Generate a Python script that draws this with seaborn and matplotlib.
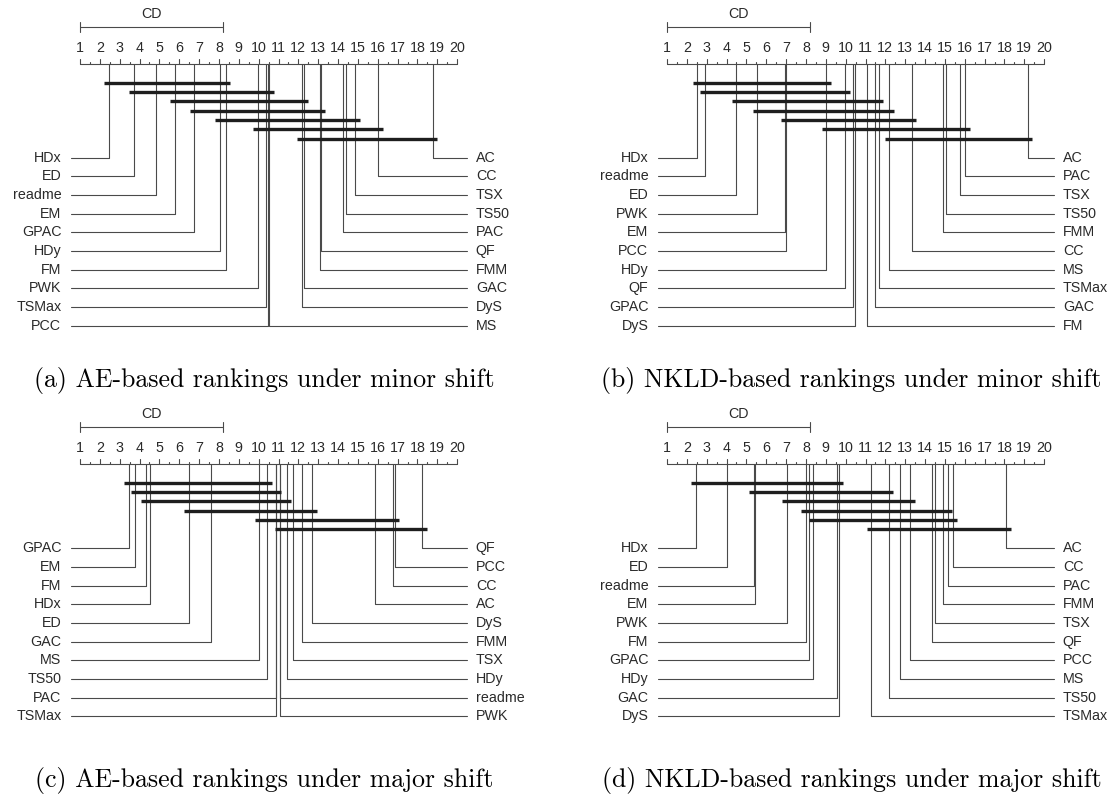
import numpy as np
import matplotlib
matplotlib.use("Agg")
import matplotlib.pyplot as plt
import seaborn as sns

sns.set_style("white")
plt.rcParams["font.family"] = ["Liberation Sans", "DejaVu Sans"]

# average ranks
cd = 7.19

names_a = ["HDx", "ED", "readme", "EM", "GPAC", "HDy", "FM", "PWK", "TSMax", "PCC",
           "MS", "DyS", "GAC", "FMM", "QF", "PAC", "TS50", "TSX", "CC", "AC"]
ranks_a = [2.44, 3.72, 4.85, 5.77, 6.76, 8.05, 8.34, 9.96, 10.37, 10.48,
           10.53, 12.17, 12.26, 13.07, 13.12, 14.24, 14.38, 14.87, 16.02, 18.77]
cliques_a = [("HDx", "FM"), ("ED", "MS"), ("EM", "GAC"), ("GPAC", "QF"),
             ("HDy", "TSX"), ("PWK", "CC"), ("DyS", "AC")]

names_b = ["HDx", "readme", "ED", "PWK", "EM", "PCC", "HDy", "QF", "GPAC", "DyS",
           "FM", "GAC", "TSMax", "MS", "CC", "FMM", "TS50", "TSX", "PAC", "AC"]
ranks_b = [2.52, 2.91, 4.49, 5.55, 6.95, 7.01, 9.02, 9.98, 10.38, 10.45,
           11.09, 11.48, 11.68, 12.19, 13.32, 14.92, 15.05, 15.76, 16.03, 19.18]
cliques_b = [("HDx", "HDy"), ("readme", "QF"), ("ED", "TSMax"), ("PWK", "MS"),
             ("EM", "CC"), ("HDy", "PAC"), ("MS", "AC")]

names_c = ["GPAC", "EM", "FM", "HDx", "ED", "GAC", "MS", "TS50", "PAC", "TSMax",
           "PWK", "readme", "HDy", "TSX", "FMM", "DyS", "AC", "CC", "PCC", "QF"]
ranks_c = [3.45, 3.79, 4.31, 4.51, 6.49, 7.62, 10.03, 10.44, 10.85, 10.89,
           11.06, 11.10, 11.41, 11.72, 12.19, 12.69, 15.84, 16.79, 16.85, 18.23]
cliques_c = [("GPAC", "TS50"), ("EM", "TSMax"), ("FM", "HDy"), ("ED", "DyS"),
             ("MS", "PCC"), ("PWK", "QF")]

names_d = ["HDx", "ED", "readme", "EM", "PWK", "FM", "GPAC", "HDy", "GAC", "DyS",
           "TSMax", "TS50", "MS", "PCC", "QF", "TSX", "FMM", "PAC", "CC", "AC"]
ranks_d = [2.46, 4.01, 5.37, 5.42, 7.04, 7.99, 8.13, 8.38, 9.57, 9.66,
           11.30, 12.18, 12.73, 13.26, 14.33, 14.51, 14.92, 15.15, 15.40, 18.08]
cliques_d = [("HDx", "DyS"), ("readme", "TS50"), ("PWK", "PCC"), ("FM", "PAC"),
             ("HDy", "CC"), ("TSMax", "AC")]

captions = ["(a) AE-based rankings under minor shift",
            "(b) NKLD-based rankings under minor shift",
            "(c) AE-based rankings under major shift",
            "(d) NKLD-based rankings under major shift"]

W, H = 1114, 794
U = 19.85      # pixels per rank unit
HU = 93.5      # pixels per orange height unit
AX_Y = 64
LINE = "#4a4a4a"
TXT = "#2a2a2a"
FS = 10.3


def cd_diagram(ax, names, ranks, cliques, caption, x1, top):
    ax.set_xlim(1 - x1 / U, 1 + (W - x1) / U)
    ax.set_ylim(H - top, -top)
    ax.axis("off")
    order = np.argsort(ranks)
    names = [names[i] for i in order]
    ranks = np.asarray(ranks)[order]
    pos = dict(zip(names, ranks))
    k = len(names)
    lo, hi = 1, k

    # CD scale bar
    cy = 27
    ax.plot([lo, lo + cd], [cy, cy], color=LINE, lw=0.8)
    for e in (lo, lo + cd):
        ax.plot([e, e], [cy - 4.7, cy + 4.7], color=LINE, lw=0.8)
    ax.text(lo + cd / 2, cy - 5.5, "CD", ha="center", va="bottom", fontsize=FS, color=TXT)

    # rank axis
    ax.plot([lo, hi], [AX_Y, AX_Y], color=LINE, lw=0.8)
    for a in np.arange(lo, hi + 0.25, 0.5):
        h = 0.05 * HU if a == int(a) else 0.025 * HU
        ax.plot([a, a], [AX_Y - h, AX_Y], color=LINE, lw=0.8)
        if a == int(a):
            ax.text(a, AX_Y - 0.1 * HU, str(int(a)), ha="center", va="bottom",
                    fontsize=FS, color=TXT)

    blank = max(0.4, 0.4 + (len(cliques) - 1) * 0.1)
    y0 = AX_Y + blank * HU
    row = 0.2 * HU
    g1, g2 = 0.1 * HU / U, 0.2 * HU / U
    half = int(np.ceil(k / 2))
    for i in range(k):
        r = ranks[i]
        if i < half:
            y = y0 + i * row
            ax.plot([r, r, lo - g1], [AX_Y, y, y], color=LINE, lw=0.8)
            ax.text(lo - g2, y, names[i], ha="right", va="center", fontsize=FS, color=TXT)
        else:
            y = y0 + (k - i - 1) * row
            ax.plot([r, r, hi + g1], [AX_Y, y, y], color=LINE, lw=0.8)
            ax.text(hi + g2, y, names[i], ha="left", va="center", fontsize=FS, color=TXT)

    # groups of methods with no significant difference
    side = 4.5 / U
    for j, (a, b) in enumerate(cliques):
        y = AX_Y + 0.2 * HU + j * 0.1 * HU
        ax.plot([pos[a] - side, pos[b] + side], [y, y], color="#1e1e1e", lw=2.4,
                solid_capstyle="butt", zorder=3)

    ax.text(10.3, 380, caption, ha="center", va="center", fontsize=18.6,
            family=["cmr10", "DejaVu Serif"], color="black")


fig = plt.figure(figsize=(W / 100, H / 100), dpi=100)
panels = [(names_a, ranks_a, cliques_a, 80, 0),
          (names_b, ranks_b, cliques_b, 667, 0),
          (names_c, ranks_c, cliques_c, 80, 400),
          (names_d, ranks_d, cliques_d, 667, 400)]
for (nm, rk, cl, x1, top), cap in zip(panels, captions):
    ax = fig.add_axes([0, 0, 1, 1])
    ax.patch.set_alpha(0)
    cd_diagram(ax, nm, rk, cl, cap, x1, top)

fig.savefig("out.png", dpi=100, facecolor="white")
